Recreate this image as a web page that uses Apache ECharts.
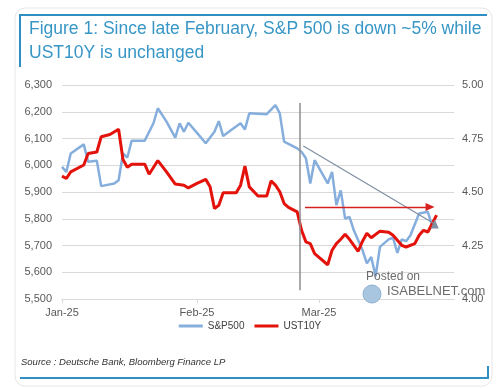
<!DOCTYPE html>
<html><head><meta charset="utf-8">
<script src="https://cdn.jsdelivr.net/npm/echarts@6/dist/echarts.min.js"></script>
<style>html,body{margin:0;padding:0;background:#fff}#c{width:500px;height:388px}</style>
</head><body><div id="c"></div>
<script>
const titleLines = ['Figure 1: Since late February, S&P 500 is down ~5% while', 'UST10Y is unchanged'];
const sourceText = 'Source : Deutsche Bank, Bloomberg Finance LP';
const watermark = ['Posted on', 'ISABELNET.com'];
const monthLabels = ['Jan-25', 'Feb-25', 'Mar-25'];
const legendNames = ['S&P500', 'UST10Y'];

const spxDates = ['2025-01-01','2025-01-02','2025-01-03','2025-01-06','2025-01-07','2025-01-09','2025-01-10','2025-01-13','2025-01-14','2025-01-15','2025-01-16','2025-01-17','2025-01-20','2025-01-22','2025-01-23','2025-01-25','2025-01-27','2025-01-28','2025-01-29','2025-01-30','2025-02-01','2025-02-03','2025-02-05','2025-02-06','2025-02-07','2025-02-09','2025-02-11','2025-02-12','2025-02-13','2025-02-17','2025-02-19','2025-02-20','2025-02-21','2025-02-24','2025-02-25','2025-02-26','2025-02-27','2025-02-28','2025-03-03','2025-03-04','2025-03-05','2025-03-06','2025-03-07','2025-03-08','2025-03-09','2025-03-11','2025-03-12','2025-03-13','2025-03-14','2025-03-15','2025-03-17','2025-03-18','2025-03-19','2025-03-20','2025-03-21','2025-03-22','2025-03-24','2025-03-26','2025-03-27','2025-03-28'];
const spxValues = [5994,5975,6044,6078,6013,6017,5922,5932,5944,6044,6029,6092,6092,6157,6213,6163,6103,6157,6125,6159,6121,6082,6125,6165,6109,6134,6157,6134,6194,6191,6225,6194,6088,6063,6050,6026,5932,6019,5932,5975,5851,5906,5801,5807,5757,5682,5633,5657,5585,5695,5723,5729,5672,5723,5716,5738,5820,5826,5772,5780];

const ustDates = ['2025-01-01','2025-01-02','2025-01-03','2025-01-06','2025-01-07','2025-01-09','2025-01-10','2025-01-12','2025-01-14','2025-01-15','2025-01-16','2025-01-17','2025-01-20','2025-01-21','2025-01-23','2025-01-25','2025-01-27','2025-01-29','2025-01-30','2025-02-01','2025-02-03','2025-02-04','2025-02-05','2025-02-06','2025-02-07','2025-02-10','2025-02-11','2025-02-12','2025-02-13','2025-02-15','2025-02-17','2025-02-18','2025-02-19','2025-02-20','2025-02-21','2025-02-22','2025-02-24','2025-02-25','2025-02-26','2025-02-27','2025-02-28','2025-03-03','2025-03-04','2025-03-05','2025-03-06','2025-03-07','2025-03-08','2025-03-10','2025-03-11','2025-03-12','2025-03-13','2025-03-15','2025-03-17','2025-03-18','2025-03-20','2025-03-21','2025-03-23','2025-03-24','2025-03-25','2025-03-26','2025-03-28'];
const ustValues = [4.574,4.563,4.594,4.626,4.680,4.687,4.758,4.769,4.793,4.652,4.616,4.630,4.630,4.583,4.647,4.594,4.537,4.532,4.519,4.540,4.559,4.524,4.423,4.438,4.496,4.496,4.532,4.621,4.524,4.481,4.481,4.552,4.532,4.501,4.446,4.428,4.407,4.321,4.267,4.259,4.212,4.160,4.228,4.259,4.279,4.303,4.279,4.223,4.270,4.307,4.286,4.317,4.312,4.298,4.251,4.243,4.259,4.298,4.321,4.313,4.392];

// annotation anchors (data space)
const eventDate = '2025-02-24T12:00:00';
const eventSpan = [6233, 5533];
const trendStart = ['2025-02-25T10:00:00', 6072];
const trendEnd = ['2025-03-27T14:00:00', 5780];
const yieldStart = ['2025-02-25T19:00:00', 4.43];
const yieldEnd = ['2025-03-26T12:00:00', 4.43];

const chart = echarts.init(document.getElementById('c'), null, {renderer: 'canvas'});
const font = 'Liberation Sans, Arial, sans-serif';
chart.setOption({
  animation: false,
  backgroundColor: '#fff',
  grid: {left: 62, right: 46, top: 85, bottom: 89},
  legend: {
    data: legendNames, bottom: 52, left: 'center', icon: 'rect', itemWidth: 24, itemHeight: 3, itemGap: 10,
    textStyle: {fontSize: 10, color: '#404040', fontFamily: font}
  },
  xAxis: {
    type: 'time', min: '2025-01-01', max: '2025-04-01',
    minInterval: 28 * 86400000, maxInterval: 31 * 86400000,
    axisLine: {show: true, lineStyle: {color: '#d9d9d9'}},
    axisTick: {show: true, length: 4, lineStyle: {color: '#d9d9d9'}},
    splitLine: {show: false},
    axisLabel: {
      showMaxLabel: false, color: '#595959', fontSize: 11, fontFamily: font, margin: 8,
      formatter: function (v) { const d = new Date(v); return d.getDate() === 1 && d.getMonth() < 3 ? monthLabels[d.getMonth()] : ''; }
    }
  },
  yAxis: [
    {
      type: 'value', min: 5500, max: 6300, interval: 100,
      axisLine: {show: false}, axisTick: {show: false},
      splitLine: {lineStyle: {color: '#d9d9d9', width: 1}},
      axisLabel: {color: '#595959', fontSize: 11, fontFamily: font, margin: 10,
        formatter: v => v.toLocaleString('en-US')}
    },
    {
      type: 'value', min: 4, max: 5, interval: 0.125,
      axisLine: {show: false}, axisTick: {show: false}, splitLine: {show: false},
      axisLabel: {color: '#595959', fontSize: 11, fontFamily: font, margin: 8,
        formatter: v => Math.abs(v * 4 - Math.round(v * 4)) < 1e-6 ? v.toFixed(2) : ''}
    }
  ],
  series: [
    {
      name: legendNames[0], type: 'line', yAxisIndex: 0, showSymbol: false, symbol: 'none',
      data: spxDates.map((d, i) => [d, spxValues[i]]),
      lineStyle: {color: '#86aedd', width: 2.5}, itemStyle: {color: '#86aedd'},
      markLine: {
        silent: true, animation: false, label: {show: false},
        data: [
          [{coord: [eventDate, eventSpan[0]], symbol: 'none', lineStyle: {color: '#8c8c8c', width: 1.5, type: 'solid'}},
           {coord: [eventDate, eventSpan[1]], symbol: 'none'}],
          [{coord: trendStart, symbol: 'none', lineStyle: {color: '#7f8fa3', width: 1.2, type: 'solid'}},
           {coord: trendEnd, symbol: 'triangle', symbolSize: [8, 9], symbolRotate: 0}]
        ]
      }
    },
    {
      name: legendNames[1], type: 'line', yAxisIndex: 1, showSymbol: false, symbol: 'none',
      data: ustDates.map((d, i) => [d, ustValues[i]]),
      lineStyle: {color: '#e3120b', width: 3}, itemStyle: {color: '#e3120b'}, z: 3,
      markLine: {
        silent: true, animation: false, label: {show: false},
        data: [
          [{coord: yieldStart, symbol: 'none', lineStyle: {color: '#d62020', width: 1.3, type: 'solid'}},
           {coord: yieldEnd, symbol: 'triangle', symbolSize: [8, 9]}]
        ]
      }
    }
  ],
  graphic: [
    {type: 'rect', shape: {x: 15, y: 8, width: 477, height: 378, r: 10}, style: {fill: 'none', stroke: '#e6e6e6', lineWidth: 1}, z: -1},
    {type: 'line', shape: {x1: 20, y1: 15, x2: 487, y2: 15}, style: {stroke: '#2f8fc2', lineWidth: 2}},
    {type: 'line', shape: {x1: 20, y1: 14, x2: 20, y2: 67}, style: {stroke: '#2f8fc2', lineWidth: 2}},
    {type: 'line', shape: {x1: 20, y1: 378, x2: 488, y2: 378}, style: {stroke: '#2f8fc2', lineWidth: 2}},
    {type: 'line', shape: {x1: 488, y1: 366, x2: 488, y2: 379}, style: {stroke: '#2f8fc2', lineWidth: 2}},
    {type: 'text', left: 29, top: 20, style: {text: titleLines[0], fill: '#3796c6', font: '17.5px ' + font}},
    {type: 'text', left: 29, top: 44, style: {text: titleLines[1], fill: '#3796c6', font: '17.5px ' + font}},
    {type: 'text', left: 21, top: 357, style: {text: sourceText, fill: '#333', font: 'italic 9.5px ' + font}},
    {type: 'text', left: 366, top: 271, style: {text: watermark[0], fill: '#6b6b6b', font: '12px ' + font}, z: 10},
    {type: 'circle', shape: {cx: 372, cy: 294, r: 9}, style: {fill: '#a9c6e0', stroke: '#8fb0cf', lineWidth: 1}, z: 10},
    {type: 'text', left: 387, top: 285, style: {text: watermark[1], fill: '#6b6b6b', font: '13px ' + font}, z: 10}
  ]
});
</script></body></html>
